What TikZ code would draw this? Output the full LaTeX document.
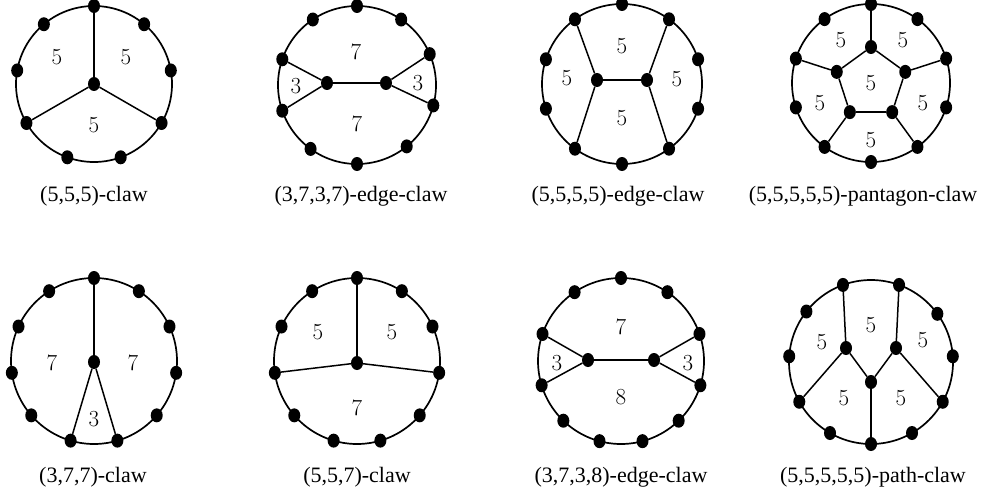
\documentclass[tikz,border=0pt]{standalone}
\usepackage{fontspec}
\newfontfamily\capfont{Liberation Serif}
\usetikzlibrary{shapes.geometric}
\begin{document}
\begin{tikzpicture}[x=1pt,y=1pt,
  dot/.style={ellipse,fill=black,inner sep=0pt,minimum width=12pt,minimum height=14pt},
  ring/.style={line width=1.7pt},
  edge/.style={line width=1.5pt},
  face/.style={font=\fontsize{23}{23}\selectfont,inner sep=0pt},
  caption/.style={font=\capfont\fontsize{22}{22}\selectfont,inner sep=0pt}]
\useasboundingbox (0,0) rectangle (981,-492);

% D1 (5,5,5)-claw
\begin{scope}[shift={(94,-84)}]
  \draw[ring] (0,0) circle (78);
  \foreach \i in {0,...,8} \node[dot] (a\i) at ({90+40*\i}:78) {};
  \node[dot] (ac) at (0,0) {};
  \draw[edge] (ac) -- (a0);
  \draw[edge] (ac) -- (a3);
  \draw[edge] (ac) -- (a6);
  \node[face] (a5l1) at (-37,27) {5};
  \node[face] (a5l2) at (32,27) {5};
  \node[face] (a5l3) at (0,-41) {5};
\end{scope}
\node[caption] (cap1) at (94,-196) {(5,5,5)-claw};

% D2 (3,7,3,7)-edge-claw
\begin{scope}[shift={(357,-85)}]
  \draw[ring] (0,0) circle (79);
  \foreach \i/\a in {0/90,1/124,2/161,3/199,4/234,5/270,6/309,7/345,8/23,9/56}
    \node[dot] (b\i) at (\a:79) {};
  \node[dot] (bl) at (-30,2) {};
  \node[dot] (br) at (29,2) {};
  \draw[edge] (b2) -- (bl);
  \draw[edge] (b3) -- (bl);
  \draw[edge] (b8) -- (br);
  \draw[edge] (b7) -- (br);
  \draw[edge] (bl) -- (br);
  \node[face] (bf1) at (-61,-1) {3};
  \node[face] (bf2) at (61,2) {3};
  \node[face] (bf3) at (-1,33) {7};
  \node[face] (bf4) at (0,-39) {7};
\end{scope}
\node[caption] (cap2) at (361,-196) {(3,7,3,7)-edge-claw};

% D3 (5,5,5,5)-edge-claw
\begin{scope}[shift={(622,-84)}]
  \draw[ring] (0,0) circle (80);
  \foreach \i in {0,...,9} \node[dot] (c\i) at ({90+36*\i}:80) {};
  \node[dot] (cl) at (-25,4) {};
  \node[dot] (cr) at (25,4) {};
  \draw[edge] (c1) -- (cl);
  \draw[edge] (c4) -- (cl);
  \draw[edge] (c9) -- (cr);
  \draw[edge] (c6) -- (cr);
  \draw[edge] (cl) -- (cr);
  \node[face] (cf1) at (0,38) {5};
  \node[face] (cf2) at (-55,6) {5};
  \node[face] (cf3) at (55,5) {5};
  \node[face] (cf4) at (0,-34) {5};
\end{scope}
\node[caption] (cap3) at (618,-196) {(5,5,5,5)-edge-claw};

% D4 pentagon-claw
\begin{scope}[shift={(871,-83)}]
  \draw[ring] (0,0) circle (79);
  \foreach \i in {0,...,9} \node[dot] (d\i) at ({90+36*\i}:79) {};
  \foreach \j in {0,...,4} \node[dot] (p\j) at ({90+72*\j}:36) {};
  \draw[edge] (d0) -- (p0);
  \draw[edge] (d2) -- (p1);
  \draw[edge] (d4) -- (p2);
  \draw[edge] (d6) -- (p3);
  \draw[edge] (d8) -- (p4);
  \draw[edge] (p0) -- (p1);
  \draw[edge] (p1) -- (p2);
  \draw[edge] (p2) -- (p3);
  \draw[edge] (p3) -- (p4);
  \draw[edge] (p4) -- (p0);
  \node[face] (df1) at (-30,43) {5};
  \node[face] (df2) at (32,43) {5};
  \node[face] (df3) at (0,0) {5};
  \node[face] (df4) at (-51,-20) {5};
  \node[face] (df5) at (52,-20) {5};
  \node[face] (df6) at (0,-57) {5};
\end{scope}
\node[caption] (cap4) at (863,-196) {(5,5,5,5,5)-pantagon-claw};

% D5 (3,7,7)-claw
\begin{scope}[shift={(94,-361)}]
  \draw[ring] (0,0) circle (83);
  \foreach \i in {0,...,10} \node[dot] (e\i) at ({90+\i*360/11}:83) {};
  \node[dot] (ec) at (0,-1) {};
  \draw[edge] (ec) -- (e0);
  \draw[edge] (ec) -- (e5);
  \draw[edge] (ec) -- (e6);
  \node[face] (ef1) at (-42,-2) {7};
  \node[face] (ef2) at (39,-2) {7};
  \node[face] (ef3) at (0,-58) {3};
\end{scope}
\node[caption] (cap5) at (93,-477) {(3,7,7)-claw};

% D6 (5,5,7)-claw
\begin{scope}[shift={(357,-361)}]
  \draw[ring] (0,0) circle (83);
  \foreach \i in {0,...,10} \node[dot] (f\i) at ({90+\i*360/11}:83) {};
  \node[dot] (fc) at (0,-2) {};
  \draw[edge] (fc) -- (f0);
  \draw[edge] (fc) -- (f3);
  \draw[edge] (fc) -- (f8);
  \node[face] (ff1) at (-39,29) {5};
  \node[face] (ff2) at (35,29) {5};
  \node[face] (ff3) at (0,-47) {7};
\end{scope}
\node[caption] (cap6) at (357,-477) {(5,5,7)-claw};

% D7 (3,7,3,8)-edge-claw
\begin{scope}[shift={(621,-361)}]
  \draw[ring] (0,0) circle (83);
  \foreach \i/\a in {0/90,1/124,2/161,3/197,4/226,5/255,6/285,7/314,8/343,9/19,10/56}
    \node[dot] (g\i) at (\a:83) {};
  \node[dot] (gl) at (-33,1) {};
  \node[dot] (gr) at (33,1) {};
  \draw[edge] (g2) -- (gl);
  \draw[edge] (g3) -- (gl);
  \draw[edge] (g9) -- (gr);
  \draw[edge] (g8) -- (gr);
  \draw[edge] (gl) -- (gr);
  \node[face] (gf1) at (-64,-2) {3};
  \node[face] (gf2) at (67,-2) {3};
  \node[face] (gf3) at (0,34) {7};
  \node[face] (gf4) at (0,-36) {8};
\end{scope}
\node[caption] (cap7) at (621,-477) {(3,7,3,8)-edge-claw};

% D8 path-claw
\begin{scope}[shift={(871,-362)}]
  \draw[ring] (0,0) circle (82);
  \foreach \i/\a in {0/70,1/110,2/142,3/176,4/209,5/240,6/270,7/300,8/331,9/4,10/36}
    \node[dot] (h\i) at (\a:82) {};
  \node[dot] (hp) at (-25,14) {};
  \node[dot] (hq) at (25,14) {};
  \node[dot] (hr) at (0,-20) {};
  \draw[edge] (h1) -- (hp);
  \draw[edge] (h0) -- (hq);
  \draw[edge] (hp) -- (h4);
  \draw[edge] (hq) -- (h8);
  \draw[edge] (hp) -- (hr);
  \draw[edge] (hq) -- (hr);
  \draw[edge] (hr) -- (h6);
  \node[face] (hf1) at (-49,20) {5};
  \node[face] (hf2) at (0,37) {5};
  \node[face] (hf3) at (52,22) {5};
  \node[face] (hf4) at (-27,-36) {5};
  \node[face] (hf5) at (30,-36) {5};
\end{scope}
\node[caption] (cap8) at (873,-477) {(5,5,5,5,5)-path-claw};
\end{tikzpicture}
\end{document}
